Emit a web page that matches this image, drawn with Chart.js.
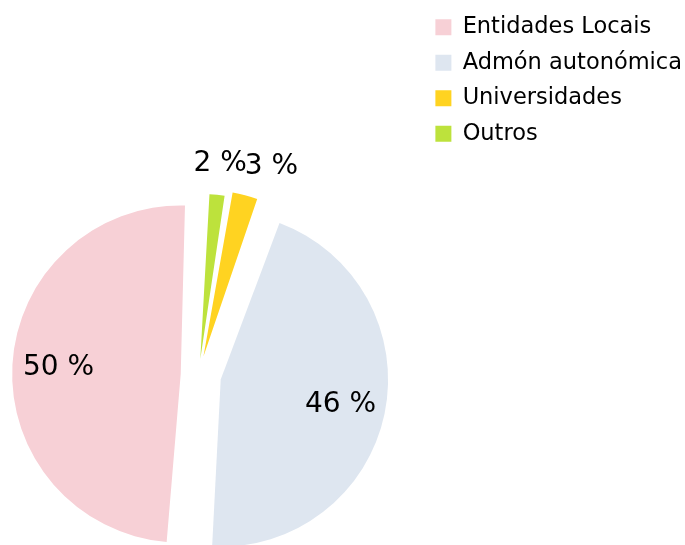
<!DOCTYPE html>
<html>
<head>
<meta charset="utf-8">
<script src="https://cdn.jsdelivr.net/npm/chart.js@4"></script>
<style>
  html, body { margin: 0; padding: 0; background: #fff; overflow: hidden; }
  /* o lenzo sae un pouco da fiestra para centrar a torta onde vai no orixinal */
  #caixa { position: absolute; left: -25px; top: 0; width: 717px; height: 747px; }
</style>
</head>
<body>
<div id="caixa"><canvas id="grafico"></canvas></div>
<script>
// orde horaria desde arriba (a lenda vai invertida)
const categorias = ['Outros', 'Universidades', 'Admón autonómica', 'Entidades Locais'];
const porcentaxes = [1.9, 2.9, 45.6, 49.6];

const cores = ['#bde23c', '#ffd321', '#dee6f0', '#f7d0d6'];
const separacion = [64, 76, 90, 72];

const etiquetasPlugin = {
  id: 'etiquetas',
  afterDatasetsDraw(chart) {
    const ctx = chart.ctx;
    const meta = chart.getDatasetMeta(0);
    const total = porcentaxes.reduce((a, b) => a + b, 0);
    ctx.save();
    ctx.font = '28px "DejaVu Sans"';
    ctx.fillStyle = '#000';
    ctx.textAlign = 'center';
    ctx.textBaseline = 'middle';
    let ultimoDereito = -Infinity;
    meta.data.forEach((arc, i) => {
      const parte = porcentaxes[i] / total;
      const texto = Math.round(parte * 100) + ' %';
      const medio = (arc.startAngle + arc.endAngle) / 2;
      const despr = (arc.options.offset || 0) / 4;
      const pequeno = parte < 0.05;
      const dist = despr + (pequeno ? arc.outerRadius + 45 : arc.outerRadius * 0.81);
      let x = arc.x + Math.cos(medio) * dist;
      const y = arc.y + Math.sin(medio) * dist;
      const ancho = ctx.measureText(texto).width;
      if (pequeno) {
        if (x - ancho / 2 < ultimoDereito - 2) x = ultimoDereito - 2 + ancho / 2;
        ultimoDereito = x + ancho / 2;
      }
      ctx.fillText(texto, x, y);
    });
    ctx.restore();
  }
};

new Chart(document.getElementById('grafico'), {
  type: 'pie',
  data: {
    labels: categorias,
    datasets: [{
      data: porcentaxes,
      backgroundColor: cores,
      borderWidth: 0,
      offset: separacion,
      rotation: 2.4,
      radius: 151
    }]
  },
  options: {
    responsive: true,
    maintainAspectRatio: false,
    animation: false,
    layout: {
      padding: { left: 0, right: 0, top: 3, bottom: 0 }
    },
    plugins: {
      legend: {
        position: 'right',
        align: 'start',
        reverse: true,
        labels: {
          boxWidth: 16,
          boxHeight: 16,
          padding: 13,
          color: '#000',
          font: { family: 'DejaVu Sans', size: 22.5 }
        }
      },
      tooltip: { enabled: false }
    }
  },
  plugins: [etiquetasPlugin]
});
</script>
</body>
</html>
